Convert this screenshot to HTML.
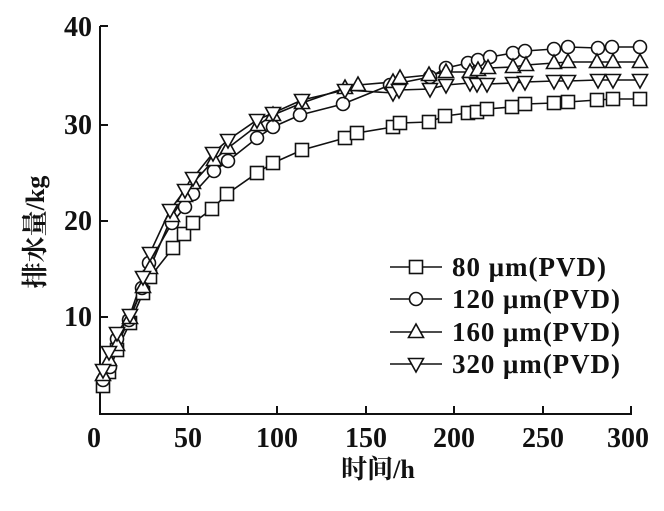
<!DOCTYPE html>
<html><head><meta charset="utf-8"><style>
body{margin:0;background:#fff;}
svg text{font-family:"Liberation Serif","Noto Serif CJK SC",serif;font-weight:bold;fill:#111;}
</style></head><body>
<svg id="s" width="664" height="506" viewBox="0 0 664 506" xmlns="http://www.w3.org/2000/svg">
<g stroke="#111" stroke-width="2" fill="none">
<path d="M100,26 V414 H632"/>
<path d="M100,26 H108 M100,125 H108 M100,221 H108 M100,317 H108"/>
<path d="M188,414 V406 M277,414 V406 M366,414 V406 M454,414 V406 M543,414 V406 M631,414 V406"/>
</g>
<g font-size="28" text-anchor="end">
<text x="92" y="36">40</text><text x="92" y="134">30</text><text x="92" y="230">20</text><text x="92" y="326">10</text>
</g>
<g font-size="28" text-anchor="middle">
<text x="94" y="447">0</text><text x="188" y="447">50</text><text x="277" y="447">100</text><text x="366" y="447">150</text><text x="454" y="447">200</text><text x="543" y="447">250</text><text x="628" y="447">300</text>
</g>
<text x="378" y="478" font-size="26" text-anchor="middle">时间/h</text>
<text transform="translate(44,232) rotate(-90)" font-size="26" text-anchor="middle">排水量/kg</text>
<g id="d" stroke="#111" stroke-width="1.6" fill="#fff"></g>
<g font-size="27">
<text x="452" y="276" textLength="154">80 μm(PVD)</text>
<text x="452" y="308" textLength="168">120 μm(PVD)</text>
<text x="452" y="341" textLength="168">160 μm(PVD)</text>
<text x="452" y="373" textLength="168">320 μm(PVD)</text>
</g>
</svg>
<script>
var S=[
[[103,386],[109,372],[117,350],[130,323],[143,293],[150,277],[173,248],[184,234],[193,223],[212,209],[227,194],[257,173],[273,163],[302,150],[345,138],[357,133],[393,127],[400,123],[429,122],[445,116],[468,113],[477,112],[487,109],[512,107],[525,104],[554,103],[568,102],[597,100],[613,99],[640,99]],
[[103,380],[110,367],[117,339],[129,320],[142,288],[149,263],[172,223],[185,207],[193,194],[214,171],[228,161],[257,138],[273,127],[300,115],[343,104],[390,85],[430,77],[446,68],[468,63],[478,60],[490,57],[513,53],[525,51],[554,49],[568,47],[598,48],[612,47],[640,47]],
[[103,375],[109,360],[117,345],[130,318],[143,287],[150,268],[172,216],[185,196],[193,183],[214,160],[228,148],[258,125],[273,115],[302,103],[345,88],[358,85],[393,82],[400,78],[429,75],[446,72],[470,72],[478,70],[488,68],[513,67],[526,65],[554,63],[568,62],[597,62],[613,62],[640,62]],
[[103,370],[109,352],[117,333],[130,315],[143,277],[150,253],[170,210],[185,190],[193,178],[213,153],[228,140],[257,120],[273,113],[302,100],[345,90],[393,93],[399,90],[430,89],[446,85],[470,83],[477,84],[487,84],[513,83],[525,82],[554,81],[568,81],[598,80],[613,80],[640,80]]];
var g=document.getElementById('d'),h='';
function mk(t,x,y){var r=6.5;
 if(t==0)return '<rect x="'+(x-r)+'" y="'+(y-r)+'" width="'+2*r+'" height="'+2*r+'"/>';
 if(t==1)return '<circle cx="'+x+'" cy="'+y+'" r="'+r+'"/>';
 if(t==2)return '<path d="M'+x+','+(y-8)+' L'+(x+7.5)+','+(y+5.5)+' L'+(x-7.5)+','+(y+5.5)+'Z"/>';
 return '<path d="M'+x+','+(y+8)+' L'+(x+7.5)+','+(y-5.5)+' L'+(x-7.5)+','+(y-5.5)+'Z"/>';}
S.forEach(function(p,i){h+='<polyline fill="none" points="'+p.map(function(q){return q.join(',')}).join(' ')+'"/>';});
S.forEach(function(p,i){p.forEach(function(q){h+=mk(i,q[0],q[1]);});});
[267,299,332,364].forEach(function(y,i){h+='<line x1="390" y1="'+y+'" x2="442" y2="'+y+'"/>'+mk(i,416,y);});
g.innerHTML=h;
</script>
</body></html>
